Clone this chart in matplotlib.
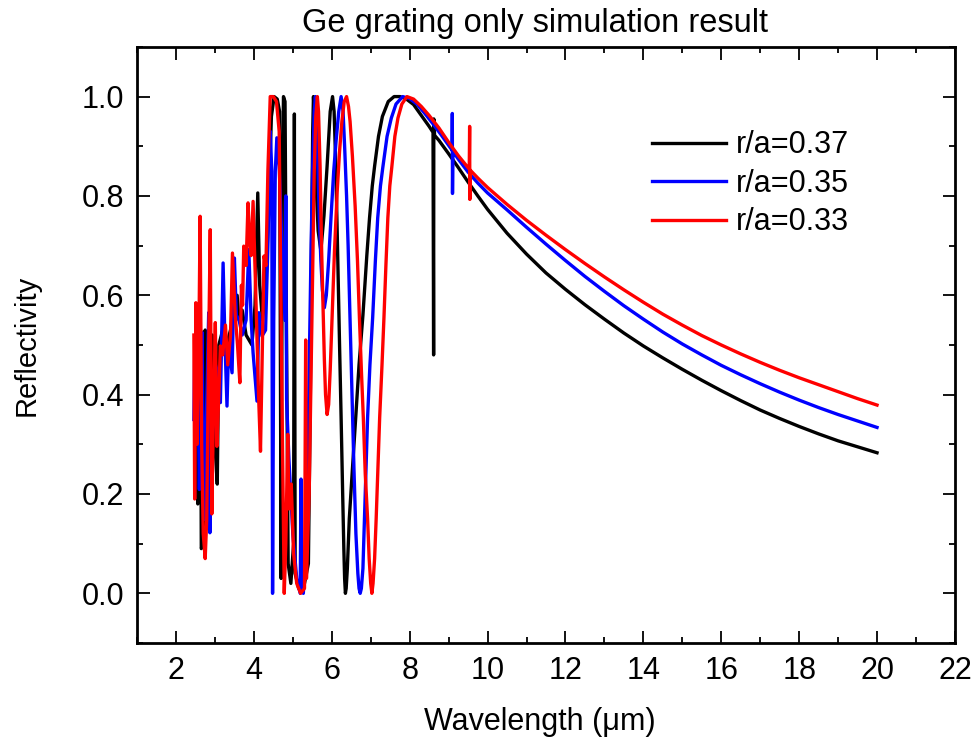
import numpy as np
import matplotlib
matplotlib.use("Agg")
import matplotlib.pyplot as plt
from matplotlib.ticker import MultipleLocator, FormatStrFormatter

#############################################
# values
labels = ["r/a=0.37", "r/a=0.35", "r/a=0.33"]

wl_037 = [2.50, 2.53, 2.56, 2.60, 2.63, 2.65, 2.70, 2.75, 2.79, 2.85, 2.93, 3.00,
          3.06, 3.10, 3.20, 3.30, 3.40, 3.50, 3.57, 3.62, 3.70, 3.80, 3.95, 4.03,
          4.10, 4.15, 4.22, 4.30, 4.38, 4.45, 4.52, 4.60, 4.66, 4.70, 4.73, 4.76,
          4.80, 4.84, 4.88, 4.95, 5.02, 5.04, 5.06, 5.15, 5.30, 5.40, 5.45, 5.48,
          5.51, 5.53, 5.56, 5.60, 5.65, 5.72, 5.80, 5.88, 5.96, 6.02, 6.06, 6.10,
          6.15, 6.20, 6.24, 6.28, 6.31, 6.33, 6.35, 6.37, 6.40, 6.45, 6.53, 6.62,
          6.70, 6.80, 6.90, 6.97, 7.04, 7.10, 7.20, 7.30, 7.45, 7.60, 7.75, 7.90,
          8.10, 8.30, 8.50, 8.60, 8.615, 8.62, 8.64, 8.75, 9.00, 9.25, 9.50, 9.75,
          10.0, 10.5, 11.0, 11.5, 12.0, 12.5, 13.0, 13.5, 14.0, 14.5, 15.0, 15.5,
          16.0, 16.5, 17.0, 17.5, 18.0, 18.5, 19.0, 19.5, 20.0]
r_037 = [0.43, 0.30, 0.18, 0.45, 0.53, 0.09, 0.10, 0.53, 0.14, 0.32, 0.52, 0.30,
         0.22, 0.50, 0.53, 0.50, 0.53, 0.56, 0.60, 0.55, 0.57, 0.52, 0.50, 0.58,
         0.806, 0.62, 0.55, 0.60, 0.78, 0.96, 1.0, 0.995, 0.97, 0.03, 0.80, 1.0,
         0.99, 0.50, 0.06, 0.02, 0.10, 0.965, 0.04, 0.01, 0.02, 0.06, 0.40, 0.70,
         0.93, 1.0, 0.95, 0.82, 0.73, 0.69, 0.76, 0.86, 0.97, 1.0, 0.97, 0.87,
         0.69, 0.50, 0.354, 0.20, 0.09, 0.03, 0.0, 0.01, 0.05, 0.15, 0.25, 0.36,
         0.46, 0.56, 0.68, 0.756, 0.82, 0.86, 0.92, 0.96, 0.99, 1.0, 1.0, 0.996,
         0.984, 0.962, 0.940, 0.928, 0.48, 0.955, 0.922, 0.912, 0.885, 0.857, 0.828, 0.800,
         0.773, 0.725, 0.683, 0.645, 0.612, 0.581, 0.552, 0.524, 0.498, 0.474, 0.451, 0.429,
         0.408, 0.388, 0.369, 0.352, 0.336, 0.321, 0.307, 0.295, 0.283]

wl_035 = [2.46, 2.48, 2.52, 2.57, 2.60, 2.64, 2.67, 2.70, 2.73, 2.78, 2.84, 2.87,
          2.93, 3.00, 3.07, 3.14, 3.21, 3.26, 3.31, 3.35, 3.44, 3.50, 3.55, 3.62,
          3.70, 3.80, 3.87, 3.93, 3.98, 4.08, 4.13, 4.21, 4.30, 4.36, 4.42, 4.46,
          4.48, 4.51, 4.55, 4.59, 4.65, 4.72, 4.80, 4.82, 4.84, 4.90, 5.00, 5.10,
          5.19, 5.21, 5.23, 5.27, 5.33, 5.40, 5.47, 5.51, 5.55, 5.58, 5.61, 5.64,
          5.68, 5.72, 5.76, 5.81, 5.86, 5.92, 5.98, 6.05, 6.11, 6.18, 6.24, 6.29,
          6.33, 6.38, 6.42, 6.47, 6.52, 6.57, 6.62, 6.67, 6.70, 6.73, 6.76, 6.80,
          6.84, 6.88, 6.92, 6.98, 7.05, 7.12, 7.18, 7.25, 7.31, 7.42, 7.53, 7.65,
          7.82, 8.00, 8.20, 8.40, 8.60, 8.80, 9.00, 9.09, 9.095, 9.10, 9.11, 9.25,
          9.50, 9.75, 10.0, 10.5, 11.0, 11.5, 12.0, 12.5, 13.0, 13.5, 14.0, 14.5,
          15.0, 15.5, 16.0, 16.5, 17.0, 17.5, 18.0, 18.5, 19.0, 19.5, 20.0]
r_035 = [0.35, 0.484, 0.36, 0.40, 0.209, 0.42, 0.525, 0.30, 0.149, 0.35, 0.565, 0.122,
         0.30, 0.464, 0.444, 0.384, 0.665, 0.50, 0.377, 0.498, 0.444, 0.675, 0.56, 0.55,
         0.52, 0.55, 0.692, 0.55, 0.484, 0.387, 0.565, 0.518, 0.53, 0.70, 0.93, 0.85,
         0.0, 0.55, 0.85, 0.917, 0.86, 0.70, 0.55, 0.80, 0.39, 0.27, 0.12, 0.03,
         0.0, 0.23, 0.01, 0.0, 0.10, 0.35, 0.70, 0.86, 0.97, 1.0, 0.96, 0.87,
         0.756, 0.67, 0.61, 0.575, 0.60, 0.67, 0.756, 0.85, 0.91, 0.97, 1.0, 0.97,
         0.90, 0.80, 0.70, 0.55, 0.40, 0.25, 0.12, 0.04, 0.01, 0.0, 0.01, 0.05,
         0.15, 0.25, 0.354, 0.46, 0.555, 0.67, 0.756, 0.82, 0.857, 0.92, 0.957, 0.985,
         1.0, 0.996, 0.984, 0.965, 0.945, 0.924, 0.902, 0.892, 0.966, 0.805, 0.89, 0.874,
         0.848, 0.826, 0.806, 0.772, 0.737, 0.703, 0.670, 0.638, 0.608, 0.579, 0.552, 0.526,
         0.502, 0.480, 0.459, 0.440, 0.422, 0.405, 0.389, 0.374, 0.360, 0.347, 0.334]

wl_033 = [2.46, 2.48, 2.51, 2.54, 2.58, 2.62, 2.66, 2.70, 2.75, 2.79, 2.84, 2.88,
          2.92, 2.96, 3.01, 3.05, 3.10, 3.14, 3.20, 3.27, 3.33, 3.40, 3.45, 3.52,
          3.58, 3.64, 3.68, 3.71, 3.74, 3.80, 3.85, 3.90, 3.93, 3.98, 4.05, 4.12,
          4.17, 4.22, 4.26, 4.31, 4.36, 4.42, 4.50, 4.58, 4.65, 4.72, 4.78, 4.82,
          4.87, 4.90, 4.96, 5.02, 5.10, 5.20, 5.30, 5.33, 5.35, 5.42, 5.50, 5.55,
          5.59, 5.63, 5.66, 5.70, 5.74, 5.78, 5.81, 5.84, 5.88, 5.92, 5.96, 6.02,
          6.07, 6.14, 6.20, 6.26, 6.32, 6.38, 6.43, 6.47, 6.53, 6.60, 6.66, 6.71,
          6.76, 6.81, 6.86, 6.92, 6.96, 7.00, 7.03, 7.06, 7.10, 7.14, 7.19, 7.23,
          7.29, 7.34, 7.39, 7.44, 7.49, 7.54, 7.62, 7.70, 7.80, 7.93, 8.10, 8.30,
          8.50, 8.75, 9.00, 9.25, 9.53, 9.54, 9.545, 9.555, 9.75, 10.0, 10.5, 11.0,
          11.5, 12.0, 12.5, 13.0, 13.5, 14.0, 14.5, 15.0, 15.5, 16.0, 16.5, 17.0,
          17.5, 18.0, 18.5, 19.0, 19.5, 20.0]
r_033 = [0.52, 0.19, 0.585, 0.30, 0.45, 0.759, 0.30, 0.12, 0.07, 0.15, 0.50, 0.732,
         0.16, 0.35, 0.545, 0.296, 0.40, 0.498, 0.48, 0.54, 0.46, 0.52, 0.685, 0.56,
         0.50, 0.424, 0.62, 0.58, 0.699, 0.66, 0.786, 0.70, 0.68, 0.789, 0.60, 0.40,
         0.286, 0.50, 0.679, 0.66, 0.85, 1.0, 1.0, 0.99, 0.93, 0.40, 0.0, 0.10,
         0.32, 0.17, 0.22, 0.08, 0.02, 0.0, 0.01, 0.51, 0.03, 0.20, 0.60, 0.85,
         0.96, 1.0, 0.97, 0.86, 0.69, 0.56, 0.47, 0.40, 0.36, 0.38, 0.45, 0.58,
         0.69, 0.81, 0.89, 0.95, 0.99, 1.0, 0.98, 0.95, 0.88, 0.78, 0.67, 0.555,
         0.45, 0.354, 0.24, 0.15, 0.07, 0.02, 0.0, 0.02, 0.07, 0.15, 0.26, 0.354,
         0.46, 0.555, 0.66, 0.756, 0.82, 0.857, 0.92, 0.957, 0.985, 1.0, 0.995, 0.980,
         0.962, 0.937, 0.908, 0.881, 0.854, 0.94, 0.793, 0.852, 0.836, 0.817, 0.783, 0.751,
         0.721, 0.692, 0.664, 0.637, 0.611, 0.586, 0.562, 0.540, 0.519, 0.500, 0.482, 0.465,
         0.449, 0.434, 0.420, 0.406, 0.392, 0.379]

#############################################
# plotting
plt.rcParams['font.family'] = ['Liberation Sans', 'DejaVu Sans']

fig = plt.figure(figsize=(9.76, 7.47), dpi=100)
ax = fig.add_axes([0.1404, 0.1392, 0.838, 0.798])

ax.plot(wl_037, r_037, color="black", lw=2.4, label=labels[0])
ax.plot(wl_035, r_035, color="blue", lw=2.4, label=labels[1])
ax.plot(wl_033, r_033, color="red", lw=2.4, label=labels[2])

ax.set_xlim(1, 22)
ax.set_ylim(-0.1, 1.1)
ax.set_xticks(np.arange(2, 23, 2))
ax.set_yticks(np.arange(0, 1.01, 0.2))
ax.xaxis.set_minor_locator(MultipleLocator(1))
ax.yaxis.set_minor_locator(MultipleLocator(0.1))
ax.yaxis.set_major_formatter(FormatStrFormatter("%.1f"))

ax.tick_params(which="both", direction="in", top=True, right=True, width=1.3,
               labelsize=22)
ax.tick_params(which="major", length=9, pad=9)
ax.tick_params(which="minor", length=4.5)
for s in ax.spines.values():
    s.set_linewidth(2)

ax.set_title("Ge grating only simulation result", fontsize=23.5, pad=10.5, x=0.487)
ax.set_xlabel("Wavelength (\u03bcm)", fontsize=22)
ax.xaxis.set_label_coords(0.493, -0.108)
ax.set_ylabel("Reflectivity", fontsize=21, labelpad=30)

ax.legend(loc="upper left", bbox_to_anchor=(0.63, 0.86), frameon=False,
          fontsize=22, handlelength=2.4, handletextpad=0.35, labelspacing=0.28,
          borderpad=0, borderaxespad=0)

fig.savefig("out.png", dpi=100)
